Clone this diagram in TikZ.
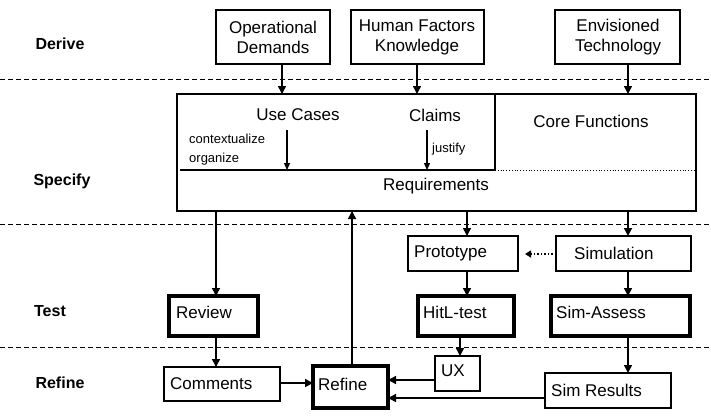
\documentclass[tikz,border=0pt]{standalone}
\usepackage{fontspec}
\setmainfont{Liberation Sans}
\usetikzlibrary{arrows.meta}
\begin{document}
\begin{tikzpicture}[x=1pt,y=-1pt,
 bx/.style={draw,line width=1.5pt,inner sep=0pt},
 tk/.style={draw,line width=3.5pt,inner sep=0pt},
 lab/.style={font=\fontsize{17}{20}\selectfont,inner sep=0pt},
 phase/.style={font=\fontsize{16}{18}\selectfont\bfseries},
 small/.style={font=\fontsize{13}{19}\selectfont,inner sep=0pt},
 ar/.style={-{Triangle[length=8pt,width=8pt]},line width=1.5pt},
 sep/.style={dash pattern=on 5pt off 3pt,line width=0.8pt}]
\useasboundingbox (0,0) rectangle (711,416);
\node[phase] (pd) at (60,44) {Derive};
\node[phase] (ps) at (62,181) {Specify};
\node[phase] (pt) at (50,311) {Test};
\node[phase] (pr) at (60,383) {Refine};
\foreach \y/\n in {79/a,224/b,347/c}{\draw[sep] (0,\y) coordinate (l\n) -- (711,\y) coordinate (r\n);}
% top
\draw[bx] (216,10) rectangle (330,64); \node[lab,align=center] (od) at (273,37) {Operational\\Demands};
\draw[bx] (351,10) rectangle (484,64); \node[lab,align=center] (hf) at (417,37) {Human Factors\\Knowledge};
\draw[bx] (555,10) rectangle (680,64); \node[lab,align=center] (et) at (618,37) {Envisioned\\Technology};
% big box
\draw[bx] (177,94) rectangle (696,211);
\draw[line width=1.5pt] (495,94) -- (495,170);
\draw[line width=1.5pt] (180,170) -- (495,170);
\draw[dotted,line width=0.8pt] (495,170) -- (696,170);
\node[lab] (uc) at (298,115) {Use Cases};
\node[lab] (cl) at (435,115) {Claims};
\node[lab] (cf) at (591,121) {Core Functions};
\node[lab] (rq) at (436,186) {Requirements};
\node[small,align=left,anchor=west] (co) at (189,150) {contextualize\\organize};
\node[small,anchor=west] (ju) at (432,149) {justify};
\draw[-{Triangle[length=7pt,width=6pt]},line width=1.3pt] (287,130) -- (287,170);
\draw[-{Triangle[length=7pt,width=6pt]},line width=1.3pt] (427,130) -- (427,170);
\draw[ar] (282,64) -- (282,94);
\draw[ar] (417,64) -- (417,94);
\draw[ar] (628,64) -- (628,94);
% test row
\draw[bx] (408,236) rectangle (518,271); \node[lab,anchor=west] (pro) at (414,253) {Prototype};
\draw[bx] (556,236) rectangle (691,271); \node[lab,anchor=west] (sim) at (574,253) {Simulation};
\draw[ar] (467,211) -- (467,236);
\draw[ar] (628,211) -- (628,236);
\draw[-{Triangle[length=6pt,width=7pt]},dotted,line width=1.5pt] (556,254) -- (525,254);
\draw[tk] (169,296) rectangle (258,336); \node[lab,anchor=west] (rev) at (176,312) {Review};
\draw[tk] (418,296) rectangle (514,336); \node[lab,anchor=west] (hit) at (423,312) {HitL-test};
\draw[tk] (551,296) rectangle (690,336); \node[lab,anchor=west] (sa) at (556,312) {Sim-Assess};
\draw[ar] (216,211) -- (216,296);
\draw[ar] (467,271) -- (467,296);
\draw[ar] (628,271) -- (628,296);
% refine row
\draw[bx] (164,367) rectangle (280,401); \node[lab,anchor=west] (com) at (170,384) {Comments};
\draw[tk] (313,366) rectangle (388,408); \node[lab,anchor=west] (ref) at (318,384) {Refine};
\draw[bx] (435,356) rectangle (480,391); \node[lab,anchor=west] (ux) at (441,371) {UX};
\draw[bx] (545,373) rectangle (671,408); \node[lab,anchor=west] (sr) at (551,390) {Sim Results};
\draw[ar] (216,336) -- (216,367);
\draw[ar] (280,383) -- (313,383);
\draw[ar] (352,366) -- (352,211);
\draw[ar] (460,336) -- (460,356);
\draw[ar] (435,380) -- (388,380);
\draw[ar] (545,398) -- (388,398);
\draw[ar] (628,336) -- (628,373);
\end{tikzpicture}
\end{document}
